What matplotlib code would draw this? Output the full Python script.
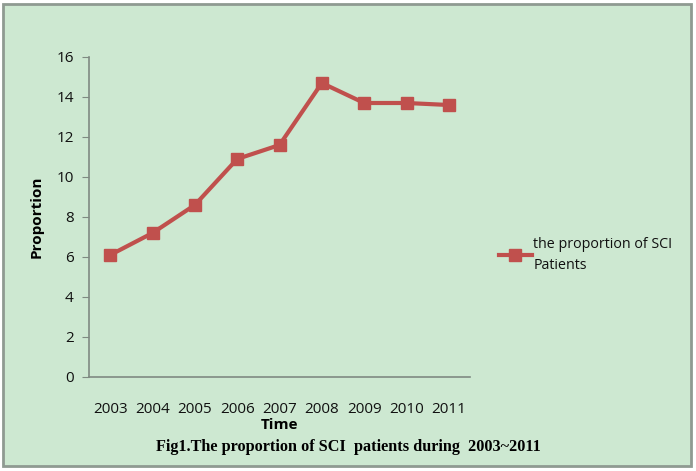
import matplotlib
matplotlib.use("Agg")
import matplotlib.pyplot as plt
from matplotlib.patches import Rectangle

years = ["2003", "2004", "2005", "2006", "2007", "2008", "2009", "2010", "2011"]
proportion = [6.1, 7.2, 8.6, 10.9, 11.6, 14.7, 13.7, 13.7, 13.6]
yticks = [0, 2, 4, 6, 8, 10, 12, 14, 16]

W, H = 696, 471
fig = plt.figure(figsize=(W/100, H/100), dpi=100)
fig.patch.set_facecolor("white")
bg = "#cde8d1"
fig.patches.append(Rectangle((3/W, 5/H), 688/W, 462/H, transform=fig.transFigure,
                             facecolor=bg, edgecolor="#8f9a92", linewidth=2, zorder=-10))

ax = fig.add_axes([89/W, (H-377)/H, (470-89)/W, (377-57)/H])
ax.set_facecolor("none")
x = list(range(len(years)))
ax.plot(x, proportion, color="#c0504d", linewidth=3, marker="s", markersize=9,
        label="the proportion of SCI\nPatients")
ax.set_xlim(-0.5, len(years)-0.5)
ax.set_ylim(0, 16)
ax.set_yticks(yticks)
ax.set_xticks(x)
ax.set_xticklabels(years)
for s in ["top", "right"]:
    ax.spines[s].set_visible(False)
for s in ["left", "bottom"]:
    ax.spines[s].set_color("#7f8a82")
    ax.spines[s].set_linewidth(1.2)
ax.tick_params(axis="y", length=5, color="#7f8a82", labelsize=11, pad=6, labelcolor="#111111")
ax.tick_params(axis="x", length=0, labelsize=11, pad=18, labelcolor="#111111")
for lab in ax.get_xticklabels() + ax.get_yticklabels():
    lab.set_family("Open Sans")
ax.set_xlabel("Time", fontsize=11, fontweight="bold", family="Open Sans", labelpad=1)
ax.set_ylabel("Proportion", fontsize=11, fontweight="bold", family="Open Sans", labelpad=9)

leg = fig.legend(loc="upper left", bbox_to_anchor=(486/W, (H-224)/H), frameon=False,
                 prop={"family": "Open Sans", "size": 10.3}, handlelength=2.3,
                 handletextpad=0.1)
for t in leg.get_texts():
    t.set_linespacing(1.55)
    t.set_color("#111111")

fig.text(0.5, (H-447)/H, "Fig1.The proportion of SCI  patients during  2003~2011",
         ha="center", va="center", fontsize=11.7, fontweight="bold",
         family="Liberation Serif")

fig.savefig("out.png", dpi=100, facecolor="white")
